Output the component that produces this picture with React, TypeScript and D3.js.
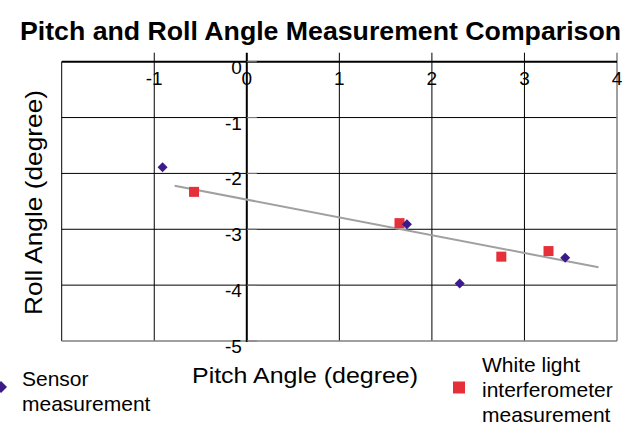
import React from "react";
import * as d3 from "d3";

const titleText = "Pitch and Roll Angle Measurement Comparison";
const xTitle = "Pitch Angle (degree)";
const yTitle = "Roll Angle (degree)";
const sensorLabel = ["Sensor", "measurement"];
const wliLabel = ["White light", "interferometer", "measurement"];

const sensorPitch = [-0.91, 1.73, 2.3, 3.44];
const sensorRoll = [-1.89, -2.91, -3.97, -3.51];
const wliPitch = [-0.57, 1.65, 2.75, 3.26];
const wliRoll = [-2.33, -2.89, -3.49, -3.39];
const trendPitch = [-0.78, 3.8];
const trendRoll = [-2.22, -3.68];

const xDomain = [-2, 4];
const yDomain = [0, -5];
const xLabelTicks = [-1, 0, 1, 2, 3, 4];
const xGridTicks = [-2, -1, 1, 2, 3];
const yTicks = [0, -1, -2, -3, -4, -5];
const yGridTicks = [-1, -2, -3, -4];

const FONT = "Arial, 'Liberation Sans', Helvetica, sans-serif";
const SENSOR_COLOR = "#3d1a8a";
const WLI_COLOR = "#e5303a";

export default function App() {
  const x = d3.scaleLinear().domain(xDomain).range([61.7, 617]);
  const y = d3.scaleLinear().domain(yDomain).range([61.7, 341]);
  const x0 = x(0);
  const [yTop, yBot] = y.range();
  const [xL, xR] = x.range();

  const trend = d3
    .line<number>()
    .x((_, i) => x(trendPitch[i]))
    .y((_, i) => y(trendRoll[i]))(trendPitch);

  const diamond = (cx: number, cy: number, r: number) =>
    `M${cx},${cy - r}L${cx + r},${cy}L${cx},${cy + r}L${cx - r},${cy}Z`;

  return (
    <svg
      width={627}
      height={426}
      style={{ position: "absolute", left: 0, top: 0, background: "#fff" }}
      fontFamily={FONT}
    >
      <text
        x={320.5}
        y={40}
        textAnchor="middle"
        fontSize={25}
        fontWeight="bold"
        textLength={601}
        lengthAdjust="spacingAndGlyphs"
      >
        {titleText}
      </text>

      {/* horizontal grid */}
      {yGridTicks.map((t) => (
        <line key={"hy" + t} x1={xL} x2={xR} y1={y(t)} y2={y(t)} stroke="#000" strokeWidth={1} />
      ))}
      {/* vertical grid with small outside ticks */}
      {xGridTicks.map((t) => (
        <line key={"vx" + t} x1={x(t)} x2={x(t)} y1={t === -2 ? yTop : yTop - 9} y2={yBot} stroke="#000" strokeWidth={1} />
      ))}
      {/* right border */}
      <line x1={xR} x2={xR} y1={yTop - 9} y2={yBot} stroke="#808080" strokeWidth={1.5} />
      {/* bottom border */}
      <line x1={xL} x2={xR} y1={yBot} y2={yBot} stroke="#808080" strokeWidth={1.5} />
      {/* x axis at top (y = 0) */}
      <line x1={xL} x2={xR} y1={yTop} y2={yTop} stroke="#000" strokeWidth={2} />
      {/* y axis at x = 0 */}
      <line x1={x0} x2={x0} y1={yTop - 9} y2={yBot + 1} stroke="#000" strokeWidth={2} />
      {yTicks.map((t) => (
        <line key={"yt" + t} x1={x0} x2={x0 + 10} y1={y(t)} y2={y(t)} stroke="#808080" strokeWidth={1} />
      ))}

      {/* tick labels */}
      {xLabelTicks.map((t) => (
        <text key={"xl" + t} x={x(t)} y={85} textAnchor="middle" fontSize={19}>
          {t}
        </text>
      ))}
      {yTicks.map((t) => (
        <text key={"yl" + t} x={x0 - 5} y={y(t) + 12} textAnchor="end" fontSize={19}>
          {t}
        </text>
      ))}

      {/* trend line */}
      <path d={trend ?? ""} fill="none" stroke="#a0a0a0" strokeWidth={2} />

      {/* markers */}
      {wliPitch.map((p, i) => (
        <rect key={"w" + i} x={x(p) - 5} y={y(wliRoll[i]) - 5} width={10} height={10} fill={WLI_COLOR} />
      ))}
      {sensorPitch.map((p, i) => (
        <path key={"s" + i} d={diamond(x(p), y(sensorRoll[i]), 5)} fill={SENSOR_COLOR} />
      ))}

      {/* axis titles */}
      <text x={192} y={383} fontSize={22} textLength={226} lengthAdjust="spacingAndGlyphs">
        {xTitle}
      </text>
      <text
        transform={`translate(42,202.5) rotate(-90)`}
        textAnchor="middle"
        fontSize={24}
        textLength={225}
        lengthAdjust="spacingAndGlyphs"
      >
        {yTitle}
      </text>

      {/* legend */}
      <path d={diamond(1, 387, 6)} fill={SENSOR_COLOR} />
      {sensorLabel.map((s, i) => (
        <text key={"sl" + i} x={22} y={385.5 + i * 25} fontSize={21}>
          {s}
        </text>
      ))}
      <rect x={453} y={381.5} width={12} height={12} fill={WLI_COLOR} />
      {wliLabel.map((s, i) => (
        <text key={"wl" + i} x={482} y={371.5 + i * 25} fontSize={21}>
          {s}
        </text>
      ))}
    </svg>
  );
}
